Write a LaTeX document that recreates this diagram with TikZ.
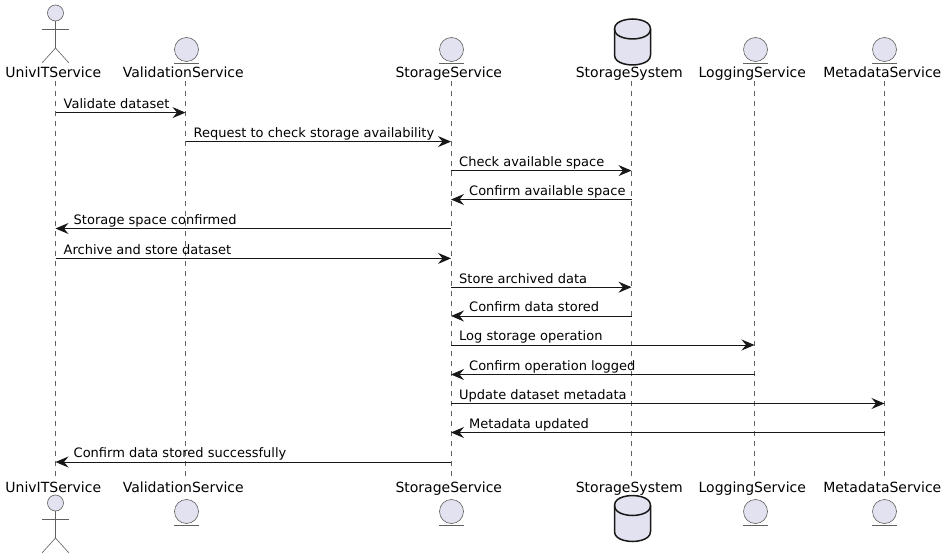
\documentclass[tikz,border=0pt]{standalone}
\usepackage{fontspec}
\setmainfont{DejaVu Sans}
\usetikzlibrary{arrows.meta,calc}
\definecolor{pfill}{HTML}{E2E2F0}
\definecolor{pline}{HTML}{181818}
\definecolor{gline}{HTML}{606060}
\tikzset{
  x=1pt,y=-1pt,
  plabel/.style={font=\fontsize{14}{16}\selectfont,text=black,inner sep=0pt,anchor=base},
  mlabel/.style={font=\fontsize{13}{15}\selectfont,text=black,inner sep=0pt,anchor=base west},
  lifeline/.style={draw=gline,line width=0.5pt,dash pattern=on 5pt off 5pt},
  msg/.style={draw=pline,line width=1pt,-{Stealth[length=13pt,width=11pt,inset=4.5pt]}},
  shapeline/.style={draw=gline,line width=0.6pt,fill=pfill},
  thinline/.style={draw=gline,line width=0.6pt},
  dbline/.style={draw=pline,line width=1.5pt,fill=pfill},
}
\newcommand{\actorfig}[2]{%
  \draw[shapeline] (#1,#2) circle (8);
  \draw[thinline] (#1,#2+8) -- (#1,#2+35);
  \draw[thinline] (#1-13.5,#2+16) -- (#1+13.5,#2+16);
  \draw[thinline] (#1-13.5,#2+50) -- (#1,#2+35) -- (#1+13.5,#2+50);
}
\newcommand{\entityfig}[2]{%
  \draw[shapeline] (#1,#2) circle (12);
  \draw[thinline] (#1-12.5,#2+13.5) -- (#1+12.5,#2+13.5);
}
\newcommand{\dbfig}[2]{%
  \draw[dbline] (#1-18,#2+10) .. controls (#1-18,#2) and (#1,#2) .. (#1,#2)
     .. controls (#1,#2) and (#1+18,#2) .. (#1+18,#2+10)
     -- (#1+18,#2+36) .. controls (#1+18,#2+46) and (#1,#2+46) .. (#1,#2+46)
     .. controls (#1,#2+46) and (#1-18,#2+46) .. (#1-18,#2+36) -- cycle;
  \draw[dbline,fill=none] (#1-18,#2+10) .. controls (#1-18,#2+20) and (#1,#2+20) .. (#1,#2+20)
     .. controls (#1,#2+20) and (#1+18,#2+20) .. (#1+18,#2+10);
}
% name, x of lifeline, label
\newcommand{\participant}[3]{%
  \node[plabel] (#1T) at (#2-2.2,78) {#3};
  \node[plabel] (#1B) at (#2-2.2,492) {#3};
  \coordinate (#1a) at (#2,81);
  \coordinate (#1b) at (#2,476);
  \draw[lifeline] (#1a) -- (#1b);
}
% id, from, to, y, label
\newcommand{\msgr}[5]{%
  \draw[msg] ($(#2a)+(0,#4-81)$) coordinate (#1s) -- ($(#3a)+(0,#4-81)$) coordinate (#1e);
  \node[mlabel] (#1) at ($(#1s)+(8,-4.2)$) {#5};
}
\newcommand{\msgl}[5]{%
  \draw[msg] ($(#2a)+(0,#4-81)$) coordinate (#1s) -- ($(#3a)+(0,#4-81)$) coordinate (#1e);
  \node[mlabel] (#1) at ($(#1e)+(18,-4.2)$) {#5};
}
\begin{document}
\begin{tikzpicture}
\useasboundingbox (0,0) rectangle (946,559);
\participant{U}{55.5}{UnivITService}
\participant{V}{185.5}{ValidationService}
\participant{S}{451}{StorageService}
\participant{D}{631.5}{StorageSystem}
\participant{L}{754.5}{LoggingService}
\participant{M}{884.5}{MetadataService}
\actorfig{55.5}{13}
\actorfig{55.5}{503}
\entityfig{186.5}{49.5}
\entityfig{186.5}{511.5}
\entityfig{451.5}{49.5}
\entityfig{451.5}{511.5}
\entityfig{755.5}{49.5}
\entityfig{755.5}{511.5}
\entityfig{884.5}{49.5}
\entityfig{884.5}{511.5}
\dbfig{632.5}{19}
\dbfig{632.5}{495.5}
\msgr{m1}{U}{V}{112.6}{Validate dataset}
\msgr{m2}{V}{S}{141.6}{Request to check storage availability}
\msgr{m3}{S}{D}{170.6}{Check available space}
\msgl{m4}{D}{S}{199.5}{Confirm available space}
\msgl{m5}{S}{U}{228.5}{Storage space confirmed}
\msgr{m6}{U}{S}{258.4}{Archive and store dataset}
\msgr{m7}{S}{D}{287.2}{Store archived data}
\msgl{m8}{D}{S}{316}{Confirm data stored}
\msgr{m9}{S}{L}{345}{Log storage operation}
\msgl{m10}{L}{S}{374.5}{Confirm operation logged}
\msgr{m11}{S}{M}{403.5}{Update dataset metadata}
\msgl{m12}{M}{S}{432.5}{Metadata updated}
\msgl{m13}{S}{U}{462}{Confirm data stored successfully}
\end{tikzpicture}
\end{document}
